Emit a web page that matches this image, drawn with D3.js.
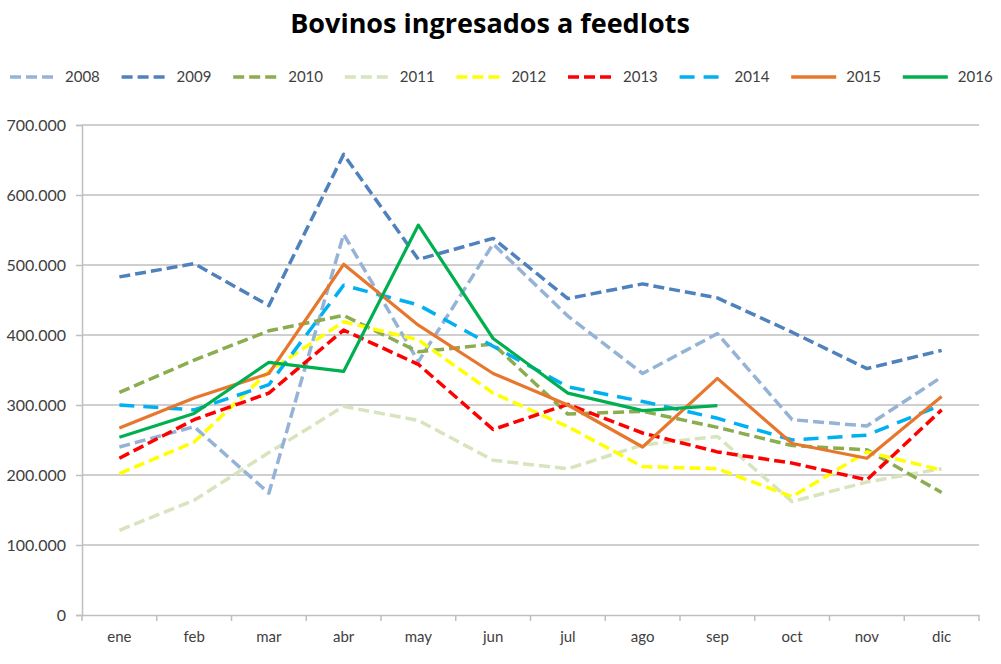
<!DOCTYPE html>
<html><head><meta charset="utf-8">
<script src="https://cdn.jsdelivr.net/npm/d3@7"></script>
<style>body{margin:0;background:#fff}svg{display:block}</style>
</head><body><svg id="c" width="1001" height="664"></svg>
<script>
const months = ["ene","feb","mar","abr","may","jun","jul","ago","sep","oct","nov","dic"];
const years = ["2008","2009","2010","2011","2012","2013","2014","2015","2016"];
const v2008 = [240000,269000,174000,544000,362000,530000,427000,345000,402000,279000,270000,340000];
const v2009 = [483000,502000,442000,658000,508000,538000,452000,473000,453000,404000,352000,378000];
const v2010 = [318000,364000,406000,428000,376000,387000,287000,291000,268000,242000,236000,175000];
const v2011 = [121000,164000,232000,298000,278000,221000,209000,243000,255000,162000,190000,209000];
const v2012 = [202000,247000,348000,419000,393000,317000,269000,212000,209000,169000,233000,207000];
const v2013 = [224000,279000,317000,407000,358000,265000,301000,260000,233000,217000,193000,293000];
const v2014 = [300000,293000,329000,471000,443000,384000,326000,305000,281000,250000,257000,300000];
const v2015 = [267000,310000,345000,501000,414000,345000,300000,240000,338000,245000,224000,312000];
const v2016 = [254000,288000,361000,348000,557000,395000,317000,292000,299000];
const yTicks = [0,100000,200000,300000,400000,500000,600000,700000];

const seriesValues = [v2008,v2009,v2010,v2011,v2012,v2013,v2014,v2015,v2016];
const colors = ["#95b3d7","#4f81bd","#8cac50","#d7e4bd","#ffff00","#ff0000","#00b0f0","#e8772e","#00b050"];
const dashes = ["11,5","11,5","11,5","11,5","11,5","11,5","15,9",null,null];

const svg = d3.select("#c");
const font = "Lato, 'Open Sans', sans-serif";
const L = 82, R = 979, T = 125, B = 615;

const x = d3.scaleBand().domain(months).range([L, R]);
const y = d3.scaleLinear().domain([0, 700000]).range([B, T]);

svg.append("text").attr("x", 490).attr("y", 33).attr("text-anchor", "middle")
  .style("font-family", "'Open Sans', sans-serif").style("font-weight", "bold").style("font-size", "27px")
  .attr("fill", "#000").text("Bovinos ingresados a feedlots");

// gridlines
svg.append("g").selectAll("line").data(yTicks.filter(d => d > 0)).join("line")
  .attr("x1", L).attr("x2", R).attr("y1", d => y(d)).attr("y2", d => y(d))
  .attr("stroke", "#bfbfbf").attr("stroke-width", 1.5);

const fmt = d => d === 0 ? "0" : d3.format(",")(d).replace(/,/g, ".");
const yAxis = d3.axisLeft(y).tickValues(yTicks).tickFormat(fmt).tickSize(6).tickPadding(10);
const gy = svg.append("g").attr("transform", `translate(${L},0)`).call(yAxis);
gy.select(".domain").attr("stroke", "#bfbfbf").attr("stroke-width", 1.5);
gy.selectAll(".tick line").attr("stroke", "#bfbfbf").attr("stroke-width", 1.5);
gy.selectAll("text").style("font-family", font).style("font-size", "16px").attr("fill", "#404040");

const xAxis = d3.axisBottom(x).tickSize(0).tickPadding(16);
const gx = svg.append("g").attr("transform", `translate(0,${B})`).call(xAxis);
gx.select(".domain").attr("stroke", "#bfbfbf").attr("stroke-width", 1.5);
gx.selectAll("text").style("font-family", font).style("font-size", "15px").attr("fill", "#404040");
// category boundary ticks
const bounds = months.map(m => x(m)).concat([R]);
svg.append("g").selectAll("line").data(bounds).join("line")
  .attr("x1", d => d).attr("x2", d => d).attr("y1", B).attr("y2", B + 6)
  .attr("stroke", "#bfbfbf").attr("stroke-width", 1.5);

const line = d3.line().x((d, i) => x(months[i]) + x.bandwidth() / 2).y(d => y(d));
const order = [3,0,1,2,4,5,6,7,8];
order.forEach(k => {
  svg.append("path").datum(seriesValues[k]).attr("d", line)
    .attr("fill", "none").attr("stroke", colors[k])
    .attr("stroke-width", k >= 7 ? 3.2 : 3.5)
    .attr("stroke-dasharray", dashes[k])
    .attr("stroke-linejoin", "round");
});

// legend
const lg = svg.append("g");
years.forEach((yr, i) => {
  const x0 = 10 + i * 111.6;
  lg.append("line").attr("x1", x0).attr("x2", x0 + 45).attr("y1", 77).attr("y2", 77)
    .attr("stroke", colors[i]).attr("stroke-width", 3.5)
    .attr("stroke-dasharray", dashes[i] ? (i === 6 ? "15,9" : "11,5") : null);
  lg.append("text").attr("x", x0 + 55).attr("y", 82)
    .style("font-family", font).style("font-size", "15px").attr("fill", "#404040").text(yr);
});
</script></body></html>
